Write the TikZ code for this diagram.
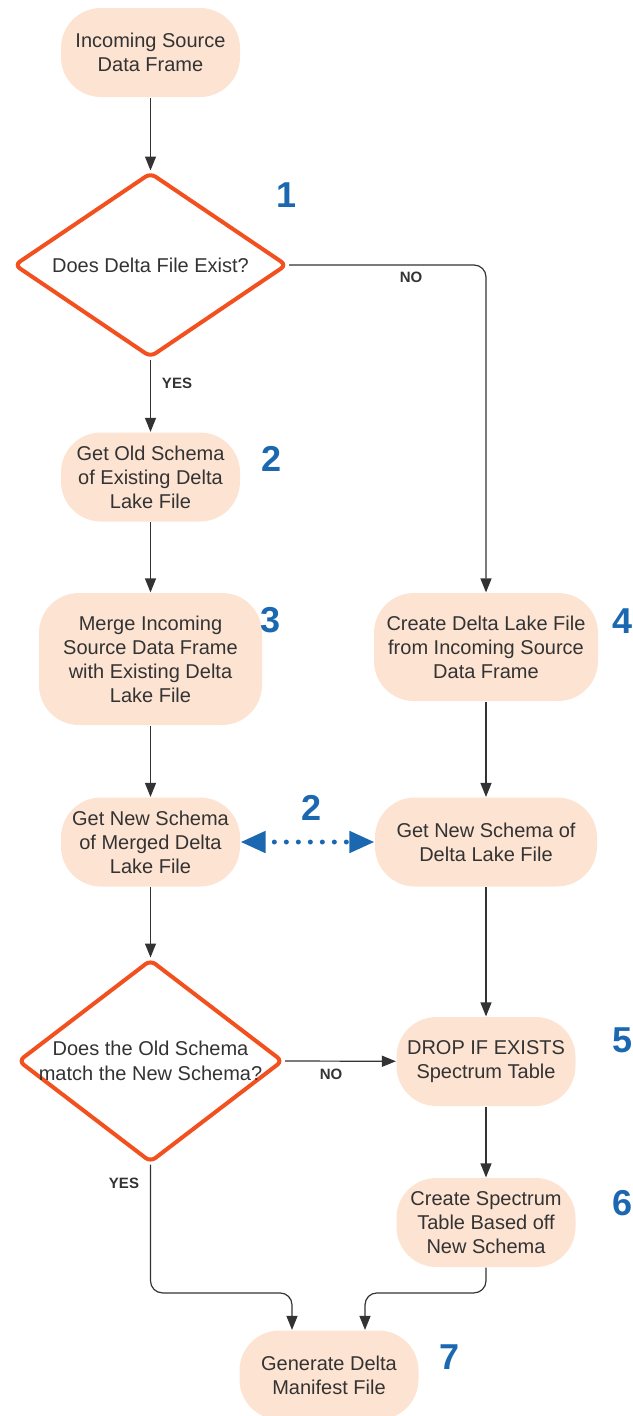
\documentclass[tikz,border=0pt]{standalone}
\usepackage{fontspec}
\setmainfont{Liberation Sans}
\usetikzlibrary{positioning,arrows.meta,shapes.geometric}
\definecolor{peach}{HTML}{FDE3D2}
\definecolor{decred}{HTML}{F2501F}
\definecolor{stepblue}{HTML}{1B68B1}
\definecolor{ink}{HTML}{333333}

\begin{document}
\begin{tikzpicture}[x=1pt, y=-1pt, line width=1.2pt,
  >={Triangle[length=14pt, width=11pt]},
  stepbox/.style={fill=peach, rounded corners=40pt, align=center, text=ink, inner sep=0pt,
    font=\fontsize{20}{24}\selectfont, minimum width=179pt, minimum height=89pt},
  decision/.style={diamond, draw=decred, line width=4pt, rounded corners=6pt, align=center, text=ink,
    inner xsep=-45pt, inner ysep=0pt, aspect=1.4, font=\fontsize{20}{25}\selectfont,
    minimum width=273pt, minimum height=185pt},
  numlab/.style={font=\fontsize{36}{36}\selectfont\bfseries, text=stepblue, inner sep=0pt},
  edgelab/.style={font=\fontsize{15}{15}\selectfont\bfseries, text=ink, inner sep=0pt},
  flow/.style={->, draw=ink},
  link/.style={<->, draw=stepblue, line width=5pt, line cap=round, dash pattern=on 0pt off 12pt,
    dash phase=2pt, >={Triangle[length=25pt, width=21pt]}},
]
\useasboundingbox (0,0) rectangle (632,1416);

% ---------------- left column ----------------
\node[stepbox] (src) at (150.5,52.5) {Incoming Source\\Data Frame};
\node[decision] (exists) at (150.5,265) {Does Delta File Exist?};
\node[stepbox] (oldschema) at (150.5,477) {Get Old Schema\\of Existing Delta\\Lake File};
\node[stepbox, minimum width=223pt, minimum height=132pt] (merge) at (150.5,659) {Merge Incoming\\Source Data Frame\\with Existing Delta\\Lake File};
\node[stepbox] (newmerged) at (150.5,842) {Get New Schema\\of Merged Delta\\Lake File};
\node[decision, minimum width=265pt, minimum height=203pt] (match) at (150.5,1061) {Does the Old Schema\\match the New Schema?};

% ---------------- right column ----------------
\node[stepbox, minimum width=224pt, minimum height=108pt] (create) at (486,647) {Create Delta Lake File\\from Incoming Source\\Data Frame};
\node[stepbox, minimum width=222pt] (newcreated) at (486,842) {Get New Schema of\\Delta Lake File};
\node[stepbox] (drop) at (486,1061.5) {DROP IF EXISTS\\Spectrum Table};
\node[stepbox] (spectrum) at (486,1222.5) {Create Spectrum\\Table Based off\\New Schema};
\node[stepbox] (manifest) at (329,1375) {Generate Delta\\Manifest File};

% step numbers
\node[numlab] (n1) at (287,195) {1};
\node[numlab] (n2) at (272,459) {2};
\node[numlab] (n3) at (271,620) {3};
\node[numlab] (n4) at (623,621) {4};
\node[numlab] (n2b) at (312,808) {2};
\node[numlab] (n5) at (623,1040) {5};
\node[numlab] (n6) at (623,1203) {6};
\node[numlab] (n7) at (450,1357) {7};

% branch labels
\node[edgelab] (no1) at (411,277) {NO};
\node[edgelab] (yes1) at (177,383) {YES};
\node[edgelab] (no2) at (331,1074) {NO};
\node[edgelab] (yes2) at (124,1183) {YES};

% connectors
\draw[flow] (src) -- (exists.north);
\draw[flow, rounded corners=12pt] (exists.east) -| (create.north);
\draw[flow] (exists.south) -- (oldschema);
\draw[flow] (oldschema) -- (merge);
\draw[flow] (merge) -- (newmerged);
\draw[flow] (create) -- (newcreated);
\draw[link] (newmerged) -- (newcreated);
\draw[flow] (newmerged) -- (match.north);
\draw[flow] (match.east) -- (drop);
\draw[flow] (newcreated) -- (drop);
\draw[flow] (drop) -- (spectrum);
\draw[flow, rounded corners=12pt] (match.south) |- ([xshift=-37pt, yshift=37pt]manifest.north) -- ([xshift=-37pt]manifest.north);
\draw[flow, rounded corners=12pt] (spectrum.south) |- ([xshift=36pt, yshift=37pt]manifest.north) -- ([xshift=36pt]manifest.north);
\end{tikzpicture}
\end{document}
